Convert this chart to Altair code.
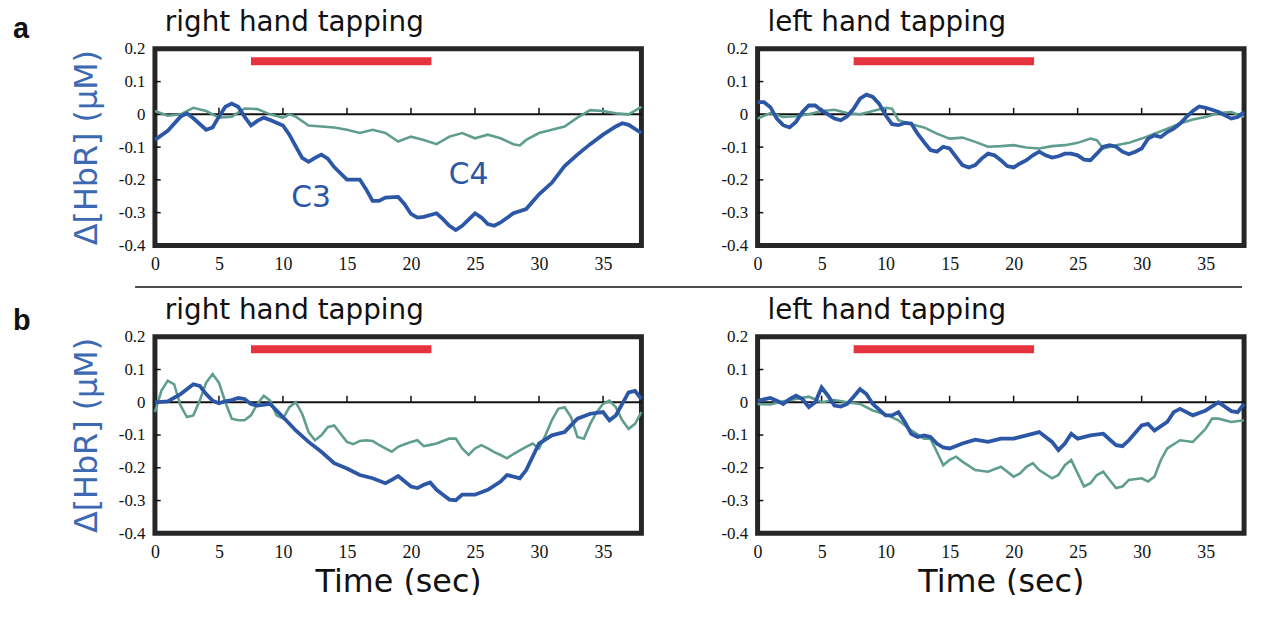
import altair as alt
import pandas as pd

# ---------------- data ----------------
# a, right hand tapping
A_R_C3_T = [0, 1, 2, 2.5, 3, 4, 4.5, 5, 5.5, 6, 6.5, 7, 7.5, 8, 8.5, 9, 10, 10.5, 11, 11.5,
            12, 12.5, 13, 13.5, 14, 15, 16, 16.5, 17, 17.5, 18, 19, 19.5, 20, 20.5, 21, 22,
            22.5, 23, 23.5, 24, 25, 25.5, 26, 26.5, 27, 28, 29, 30, 31, 32, 33, 34, 35, 36,
            36.5, 37, 38]
A_R_C3_V = [-0.078, -0.05, -0.007, 0.003, -0.012, -0.047, -0.04, -0.007, 0.023, 0.033,
            0.023, -0.007, -0.034, -0.02, -0.01, -0.017, -0.034, -0.062, -0.098, -0.133,
            -0.145, -0.133, -0.123, -0.135, -0.161, -0.199, -0.199, -0.229, -0.264, -0.264,
            -0.254, -0.252, -0.274, -0.304, -0.315, -0.313, -0.302, -0.32, -0.34, -0.353,
            -0.34, -0.302, -0.315, -0.335, -0.34, -0.33, -0.302, -0.289, -0.244, -0.209,
            -0.158, -0.123, -0.091, -0.062, -0.037, -0.027, -0.032, -0.057]
A_R_C4_T = [0, 1, 2, 3, 4, 5, 6, 7, 8, 9, 10, 10.5, 11, 12, 13, 14, 15, 16, 17, 18, 19, 20,
            21, 22, 23, 24, 25, 26, 27, 28, 28.5, 29, 30, 31, 32, 33, 34, 35, 36, 37, 38]
A_R_C4_V = [0.01, -0.004, 0, 0.02, 0.01, -0.01, -0.007, 0.018, 0.016, 0, -0.01, 0, -0.007,
            -0.034, -0.037, -0.04, -0.047, -0.057, -0.047, -0.057, -0.083, -0.068, -0.078,
            -0.091, -0.068, -0.057, -0.073, -0.062, -0.073, -0.091, -0.095, -0.078, -0.057,
            -0.047, -0.037, -0.01, 0.013, 0.01, 0.003, 0, 0.023]

# a, left hand tapping
A_L_C3_T = [0, 0.5, 1, 1.5, 2, 2.5, 3, 3.5, 4, 4.5, 5, 5.5, 6, 6.5, 7, 7.5, 8, 8.5, 9, 9.5,
            10, 10.5, 11, 11.5, 12, 12.5, 13, 13.5, 14, 14.5, 15, 15.5, 16, 16.5, 17, 17.5,
            18, 18.5, 19, 19.5, 20, 20.5, 21, 21.5, 22, 22.5, 23, 23.5, 24, 24.5, 25, 25.5,
            26, 26.5, 27, 27.5, 28, 28.5, 29, 29.5, 30, 30.5, 31, 31.5, 32, 32.5, 33, 33.5,
            34, 34.5, 35, 35.5, 36, 36.5, 37, 37.5, 38]
A_L_C3_V = [0.037, 0.037, 0.022, -0.013, -0.033, -0.04, -0.023, 0.007, 0.027, 0.027, 0.012,
            0, -0.013, -0.018, -0.006, 0.017, 0.048, 0.06, 0.053, 0.032, -0.003, -0.03,
            -0.033, -0.026, -0.028, -0.059, -0.085, -0.109, -0.114, -0.099, -0.104, -0.13,
            -0.155, -0.162, -0.155, -0.135, -0.12, -0.125, -0.14, -0.158, -0.162, -0.15,
            -0.14, -0.125, -0.114, -0.125, -0.132, -0.128, -0.12, -0.12, -0.125, -0.138,
            -0.14, -0.12, -0.099, -0.094, -0.099, -0.114, -0.122, -0.114, -0.104, -0.074,
            -0.064, -0.069, -0.054, -0.044, -0.028, -0.008, 0.01, 0.024, 0.02, 0.014, 0.007,
            -0.003, -0.013, -0.008, 0.007]
A_L_C4_T = [0, 1, 2, 3, 4, 5, 6, 7, 8, 9, 10, 10.5, 11, 12, 13, 14, 15, 16, 17, 18, 19, 20,
            21, 22, 23, 24, 25, 26, 26.5, 27, 28, 29, 30, 31, 32, 33, 34, 35, 36, 37, 38]
A_L_C4_V = [-0.013, 0.004, -0.008, -0.006, 0, 0.01, 0.014, 0.004, 0, 0.01, 0.02, 0.017,
            -0.018, -0.03, -0.04, -0.059, -0.074, -0.071, -0.084, -0.099, -0.097, -0.094,
            -0.101, -0.104, -0.097, -0.094, -0.087, -0.074, -0.079, -0.104, -0.094, -0.087,
            -0.074, -0.059, -0.044, -0.028, -0.016, -0.008, 0.004, 0.007, -0.008]

# b, right hand tapping
B_R_C3_T = [0, 1, 2, 3, 3.5, 4, 4.5, 5, 5.5, 6, 6.5, 7, 7.5, 8, 9, 10, 11, 12, 13, 14, 15,
            16, 17, 18, 18.5, 19, 20, 20.5, 21, 21.5, 22, 22.5, 23, 23.5, 24, 25, 26, 27,
            27.5, 28, 28.5, 29, 30, 31, 32, 33, 34, 35, 35.5, 36, 36.5, 37, 37.5, 38]
B_R_C3_V = [0, 0.003, 0.025, 0.055, 0.05, 0.025, 0.005, -0.003, 0.003, 0.007, 0.013, 0.01,
            -0.005, -0.01, -0.005, -0.045, -0.086, -0.121, -0.151, -0.186, -0.202, -0.222,
            -0.232, -0.247, -0.237, -0.225, -0.257, -0.262, -0.252, -0.245, -0.267, -0.282,
            -0.297, -0.299, -0.282, -0.282, -0.267, -0.242, -0.222, -0.227, -0.232, -0.207,
            -0.126, -0.101, -0.091, -0.05, -0.035, -0.03, -0.055, -0.04, -0.005, 0.03,
            0.035, 0.01]
B_R_C4_T = A_L_C3_T
B_R_C4_V = [-0.03, 0.035, 0.066, 0.055, -0.01, -0.045, -0.04, 0.005, 0.06, 0.086, 0.06, 0,
            -0.05, -0.055, -0.055, -0.04, -0.005, 0.02, 0.005, -0.04, -0.05, -0.015, 0,
            -0.035, -0.091, -0.116, -0.101, -0.076, -0.071, -0.096, -0.121, -0.128, -0.118,
            -0.116, -0.118, -0.13, -0.141, -0.151, -0.136, -0.128, -0.121, -0.116, -0.134,
            -0.13, -0.126, -0.118, -0.111, -0.111, -0.141, -0.161, -0.141, -0.131, -0.141,
            -0.152, -0.161, -0.171, -0.158, -0.147, -0.136, -0.126, -0.141, -0.101, -0.055,
            -0.02, -0.015, -0.045, -0.106, -0.111, -0.066, -0.03, -0.005, 0.005, -0.015,
            -0.055, -0.081, -0.066, -0.03]

# b, left hand tapping
B_L_C3_T = [0, 1, 1.5, 2, 2.5, 3, 3.5, 4, 4.5, 5, 5.5, 6, 6.5, 7, 7.5, 8, 8.5, 9, 10, 10.5,
            11, 11.5, 12, 12.5, 13, 13.5, 14, 14.5, 15, 16, 17, 18, 19, 20, 21, 22, 23, 23.5,
            24, 24.5, 25, 26, 27, 28, 28.5, 29, 30, 30.5, 31, 32, 32.5, 33, 34, 35, 36, 37,
            37.5, 38]
B_L_C3_V = [0.005, 0.013, 0.005, -0.005, 0.01, 0.02, 0.01, -0.015, 0, 0.045, 0.02, -0.01,
            -0.013, -0.005, 0.017, 0.04, 0.025, -0.005, -0.04, -0.04, -0.03, -0.06, -0.096,
            -0.106, -0.101, -0.106, -0.126, -0.138, -0.141, -0.126, -0.114, -0.121, -0.111,
            -0.111, -0.101, -0.091, -0.121, -0.146, -0.126, -0.096, -0.111, -0.101, -0.096,
            -0.131, -0.134, -0.116, -0.071, -0.066, -0.086, -0.06, -0.03, -0.02, -0.04,
            -0.025, 0, -0.027, -0.03, -0.005]
B_L_C4_T = [0, 1, 2, 3, 4, 5, 6, 7, 8, 9, 10, 11, 12, 13, 13.5, 14, 14.5, 15, 15.5, 16, 17,
            18, 19, 20, 20.5, 21, 21.5, 22, 23, 23.5, 24, 24.5, 25, 25.5, 26, 26.5, 27, 27.5,
            28, 28.5, 29, 30, 30.5, 31, 31.5, 32, 33, 34, 35, 35.5, 36, 37, 38]
B_L_C4_V = [-0.005, -0.007, 0.003, 0.01, 0.017, 0, 0.007, 0, -0.005, -0.025, -0.037,
            -0.055, -0.086, -0.111, -0.111, -0.151, -0.192, -0.176, -0.166, -0.181, -0.207,
            -0.212, -0.197, -0.227, -0.217, -0.197, -0.186, -0.207, -0.232, -0.222, -0.192,
            -0.176, -0.217, -0.257, -0.247, -0.222, -0.212, -0.237, -0.262, -0.257, -0.237,
            -0.232, -0.242, -0.227, -0.176, -0.141, -0.116, -0.121, -0.081, -0.05, -0.05,
            -0.06, -0.055]

STIM = [7.5, 21.6]          # tapping period (s)
BAR_LEVEL = 0.162           # height of the stimulus bar
XTICKS = [0, 5, 10, 15, 20, 25, 30, 35]
YTICKS = [0.2, 0.1, 0, -0.1, -0.2, -0.3, -0.4]
INNER_XTICKS = [5, 10, 15, 20, 25, 30, 35]
INNER_YTICKS = [0.1, -0.1, -0.2, -0.3]
LABELS_T = [12.2, 24.5]
LABELS_V = [-0.255, -0.185]
LABELS_TXT = ["C3", "C4"]

BLUE = "#2c56a6"
TEAL = "#5f9e8e"
RED = "#e5343d"
YBLUE = "#3d69b2"

W, H = 490, 198


def xenc(field, title):
    return alt.X(field, type="quantitative",
                 scale=alt.Scale(domain=[0, 38], nice=False, zero=False),
                 axis=alt.Axis(values=XTICKS, title=title, grid=False, domain=False,
                               ticks=False, labelFont="Liberation Serif", labelFontSize=18,
                               labelColor="#111", labelPadding=10, labelFlush=False,
                               titleFont="DejaVu Sans", titleFontSize=32,
                               titleFontWeight="normal", titleColor="#111",
                               titlePadding=6))


YLAB = ("datum.value == 0 ? '0' : (datum.value < 0 ? '-' + format(-datum.value, '.1f')"
        " : format(datum.value, '.1f'))")


def yenc(field, title):
    return alt.Y(field, type="quantitative",
                 scale=alt.Scale(domain=[-0.4, 0.2], nice=False, zero=False),
                 axis=alt.Axis(values=YTICKS, title=title, grid=False, domain=False,
                               ticks=False, labelFont="Liberation Serif", labelFontSize=17,
                               labelColor="#111", labelPadding=10, labelFlush=False,
                               labelExpr=YLAB,
                               titleFont="DejaVu Sans", titleFontSize=32,
                               titleFontWeight="normal", titleColor=YBLUE,
                               titlePadding=15))


def panel(c3t, c3v, c4t, c4v, title, ytitle, xtitle, tag=None, tag_y=0,
          labels=False, separator=False):
    X = lambda f: xenc(f, xtitle)
    Y = lambda f: yenc(f, ytitle)
    zero = alt.Chart(pd.DataFrame({"z": [0.0]})).mark_rule(
        color="#111", strokeWidth=2).encode(y=Y("z"))
    xt = alt.Chart(pd.DataFrame({"t": INNER_XTICKS, "a": 0.0, "b": 0.02})).mark_rule(
        color="#111", strokeWidth=1.5).encode(x=X("t"), y=Y("a"), y2="b")
    yt = alt.Chart(pd.DataFrame({"v": INNER_YTICKS, "a": 0.0, "b": 0.45})).mark_rule(
        color="#111", strokeWidth=1.5).encode(y=Y("v"), x=X("a"), x2="b")
    stim = alt.Chart(pd.DataFrame({"s": [STIM[0]], "e": [STIM[1]], "l": [BAR_LEVEL]})
                     ).mark_rule(color=RED, strokeWidth=8, strokeCap="butt").encode(
        x=X("s"), x2="e", y=Y("l"))
    c4 = alt.Chart(pd.DataFrame({"t": c4t, "v": c4v})).mark_line(
        color=TEAL, strokeWidth=2.6).encode(x=X("t"), y=Y("v"))
    c3 = alt.Chart(pd.DataFrame({"t": c3t, "v": c3v})).mark_line(
        color=BLUE, strokeWidth=3.8).encode(x=X("t"), y=Y("v"))
    ttl = alt.Chart(pd.DataFrame({"s": [title]})).mark_text(
        font="DejaVu Sans", fontSize=28, color="#111", align="left",
        baseline="alphabetic").encode(text="s:N", x=alt.value(10), y=alt.value(-18))
    layers = [zero, xt, yt, stim, c4, c3, ttl]
    if labels:
        layers.append(alt.Chart(pd.DataFrame({"t": LABELS_T, "v": LABELS_V,
                                              "s": LABELS_TXT})).mark_text(
            font="DejaVu Sans", fontSize=30, color=BLUE).encode(
            x=X("t"), y=Y("v"), text="s:N"))
    if tag:
        layers.append(alt.Chart(pd.DataFrame({"s": [tag]})).mark_text(
            font="Liberation Sans", fontWeight="bold", fontSize=29, color="#111",
            align="left", baseline="alphabetic").encode(
            text="s:N", x=alt.value(-143), y=alt.value(tag_y)))
    if separator:
        layers.append(alt.Chart(pd.DataFrame({"s": [0]})).mark_rule(
            color="#111", strokeWidth=1.5).encode(
            x=alt.value(-20), x2=alt.value(1095), y=alt.value(240)))
    return alt.layer(*layers).properties(width=W, height=H)


YT = "\u0394[HbR] (\u03bcM)"
chart = alt.concat(
    panel(A_R_C3_T, A_R_C3_V, A_R_C4_T, A_R_C4_V, "right hand tapping", YT, None,
          tag="a", tag_y=-11, labels=True, separator=True),
    panel(A_L_C3_T, A_L_C3_V, A_L_C4_T, A_L_C4_V, "left hand tapping", None, None),
    panel(B_R_C3_T, B_R_C3_V, B_R_C4_T, B_R_C4_V, "right hand tapping", YT, "Time (sec)",
          tag="b", tag_y=-7),
    panel(B_L_C3_T, B_L_C3_V, B_L_C4_T, B_L_C4_V, "left hand tapping", None, "Time (sec)"),
    columns=2, spacing=alt.RowColnumber(row=92, column=117), bounds="flush"
).properties(
    padding={"left": 2, "top": -4, "right": 0, "bottom": -8}
).configure_view(stroke="#262626", strokeWidth=5)

chart.save("out.html", embed_options={"renderer": "svg", "actions": False})
